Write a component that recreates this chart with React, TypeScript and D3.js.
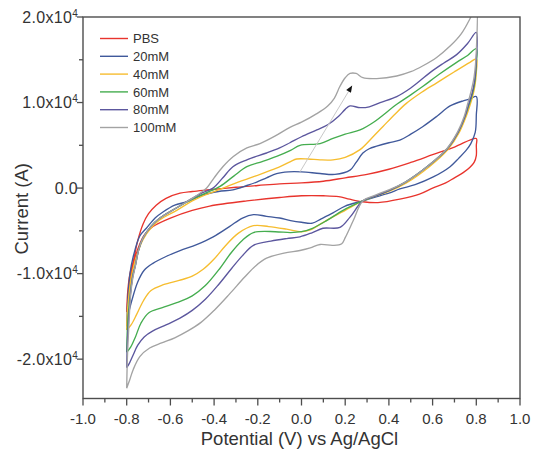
import React from 'react';
import * as d3 from 'd3';

type Pt = [number, number];

// Potential (V) vs Current (units of 10^4 as printed on the axis)
const seriesNames = ['PBS', '20mM', '40mM', '60mM', '80mM', '100mM'];
const seriesColors = ['#e8342d', '#40599b', '#f6bd2f', '#45ad4f', '#5c579e', '#a3a3a3'];

const pbsForward: Pt[] = [[-0.8,-1.45],[-0.795,-1.2],[-0.785,-1.0],[-0.77,-0.86],[-0.75,-0.62],[-0.725,-0.42],[-0.7,-0.3],[-0.665,-0.2],[-0.62,-0.12],[-0.556,-0.06],[-0.5,-0.04],[-0.42,-0.02],[-0.3,0.01],[-0.2,0.03],[-0.1,0.05],[0.0,0.06],[0.1,0.08],[0.2,0.12],[0.3,0.16],[0.4,0.22],[0.5,0.3],[0.6,0.39],[0.7,0.48],[0.8,0.58]];
const pbsReverse: Pt[] = [[0.8,0.5],[0.8,0.38],[0.79,0.3],[0.77,0.24],[0.74,0.18],[0.7,0.12],[0.66,0.06],[0.6,0.0],[0.54,-0.07],[0.45,-0.13],[0.35,-0.17],[0.28,-0.16],[0.22,-0.13],[0.17,-0.1],[0.1,-0.09],[0.0,-0.09],[-0.1,-0.11],[-0.25,-0.15],[-0.42,-0.21],[-0.5,-0.26],[-0.6,-0.35],[-0.68,-0.45],[-0.72,-0.55],[-0.75,-0.72],[-0.775,-0.95],[-0.79,-1.2],[-0.8,-1.45]];

const mM20Forward: Pt[] = [[-0.8,-1.62],[-0.795,-1.3],[-0.785,-1.0],[-0.77,-0.8],[-0.74,-0.56],[-0.71,-0.47],[-0.67,-0.35],[-0.634,-0.28],[-0.58,-0.2],[-0.525,-0.16],[-0.45,-0.08],[-0.38,-0.04],[-0.314,-0.02],[-0.25,0.03],[-0.205,0.07],[-0.16,0.12],[-0.114,0.17],[-0.06,0.19],[0.0,0.19],[0.085,0.17],[0.153,0.16],[0.222,0.21],[0.25,0.3],[0.281,0.41],[0.31,0.46],[0.344,0.49],[0.4,0.53],[0.45,0.56],[0.5,0.63],[0.556,0.72],[0.62,0.84],[0.68,0.96],[0.74,1.02],[0.77,1.04],[0.8,1.07]];
const mM20Reverse: Pt[] = [[0.8,0.85],[0.795,0.65],[0.775,0.52],[0.756,0.45],[0.72,0.35],[0.68,0.25],[0.603,0.13],[0.52,0.04],[0.45,-0.01],[0.4,-0.06],[0.33,-0.11],[0.28,-0.15],[0.2,-0.21],[0.144,-0.29],[0.09,-0.36],[0.05,-0.41],[0.0,-0.4],[-0.05,-0.38],[-0.1,-0.35],[-0.16,-0.33],[-0.22,-0.31],[-0.27,-0.35],[-0.33,-0.45],[-0.404,-0.57],[-0.48,-0.66],[-0.556,-0.73],[-0.62,-0.8],[-0.68,-0.88],[-0.72,-0.96],[-0.75,-1.1],[-0.775,-1.3],[-0.79,-1.45],[-0.8,-1.62]];

const mM40Forward: Pt[] = [[-0.8,-1.66],[-0.797,-1.45],[-0.79,-1.25],[-0.78,-1.05],[-0.765,-0.88],[-0.745,-0.72],[-0.725,-0.6],[-0.69,-0.47],[-0.648,-0.37],[-0.571,-0.26],[-0.5,-0.15],[-0.43,-0.07],[-0.359,0.0],[-0.29,0.07],[-0.222,0.13],[-0.16,0.19],[-0.098,0.25],[-0.05,0.31],[-0.022,0.34],[0.03,0.34],[0.085,0.33],[0.144,0.33],[0.2,0.36],[0.268,0.45],[0.32,0.58],[0.373,0.72],[0.43,0.87],[0.48,0.99],[0.55,1.12],[0.619,1.23],[0.7,1.36],[0.771,1.47],[0.8,1.51]];
const mM40Reverse: Pt[] = [[0.8,1.35],[0.794,1.2],[0.783,1.07],[0.77,0.96],[0.754,0.84],[0.722,0.65],[0.67,0.45],[0.585,0.25],[0.48,0.06],[0.4,-0.04],[0.33,-0.1],[0.28,-0.15],[0.2,-0.26],[0.1,-0.4],[0.04,-0.49],[0.0,-0.51],[-0.068,-0.48],[-0.15,-0.45],[-0.22,-0.44],[-0.29,-0.53],[-0.35,-0.68],[-0.4,-0.83],[-0.45,-0.95],[-0.5,-1.03],[-0.56,-1.08],[-0.632,-1.13],[-0.69,-1.2],[-0.724,-1.32],[-0.755,-1.48],[-0.78,-1.6],[-0.8,-1.66]];

const mM60Forward: Pt[] = [[-0.8,-1.92],[-0.797,-1.65],[-0.79,-1.4],[-0.782,-1.2],[-0.772,-1.02],[-0.76,-0.9],[-0.745,-0.72],[-0.725,-0.58],[-0.69,-0.45],[-0.648,-0.35],[-0.571,-0.23],[-0.5,-0.13],[-0.44,-0.06],[-0.373,0.02],[-0.31,0.14],[-0.25,0.25],[-0.18,0.31],[-0.114,0.37],[-0.05,0.44],[-0.007,0.5],[0.085,0.52],[0.144,0.58],[0.2,0.63],[0.268,0.68],[0.33,0.77],[0.436,0.98],[0.5,1.09],[0.556,1.19],[0.63,1.33],[0.71,1.47],[0.76,1.55],[0.8,1.63]];
const mM60Reverse: Pt[] = [[0.8,1.45],[0.792,1.22],[0.78,1.08],[0.766,0.97],[0.75,0.85],[0.718,0.66],[0.667,0.46],[0.58,0.26],[0.476,0.07],[0.4,-0.03],[0.33,-0.1],[0.28,-0.15],[0.19,-0.26],[0.115,-0.38],[0.05,-0.47],[0.0,-0.51],[-0.05,-0.52],[-0.12,-0.51],[-0.22,-0.52],[-0.27,-0.61],[-0.32,-0.75],[-0.38,-0.96],[-0.44,-1.14],[-0.5,-1.26],[-0.571,-1.34],[-0.64,-1.4],[-0.7,-1.46],[-0.735,-1.58],[-0.76,-1.74],[-0.782,-1.86],[-0.8,-1.92]];

const mM80Forward: Pt[] = [[-0.8,-2.1],[-0.797,-1.8],[-0.79,-1.5],[-0.782,-1.22],[-0.772,-1.03],[-0.76,-0.9],[-0.745,-0.72],[-0.725,-0.58],[-0.69,-0.45],[-0.648,-0.35],[-0.571,-0.23],[-0.5,-0.12],[-0.45,-0.05],[-0.405,0.0],[-0.36,0.12],[-0.314,0.25],[-0.25,0.33],[-0.16,0.41],[-0.1,0.47],[-0.053,0.53],[0.0,0.6],[0.07,0.68],[0.12,0.74],[0.17,0.84],[0.2,0.92],[0.222,0.96],[0.268,0.94],[0.31,0.95],[0.36,1.0],[0.436,1.07],[0.5,1.17],[0.588,1.35],[0.65,1.46],[0.71,1.56],[0.76,1.69],[0.8,1.82]];
const mM80Reverse: Pt[] = [[0.8,1.5],[0.792,1.25],[0.78,1.1],[0.765,0.98],[0.75,0.85],[0.718,0.66],[0.667,0.46],[0.58,0.26],[0.476,0.07],[0.4,-0.03],[0.33,-0.1],[0.28,-0.15],[0.222,-0.34],[0.176,-0.46],[0.098,-0.47],[0.05,-0.52],[-0.007,-0.57],[-0.068,-0.59],[-0.14,-0.62],[-0.22,-0.67],[-0.27,-0.79],[-0.32,-0.94],[-0.38,-1.13],[-0.44,-1.3],[-0.5,-1.43],[-0.556,-1.52],[-0.62,-1.6],[-0.68,-1.67],[-0.72,-1.74],[-0.75,-1.84],[-0.772,-1.96],[-0.788,-2.05],[-0.8,-2.1]];

const mM100Forward: Pt[] = [[-0.8,-2.34],[-0.797,-2.0],[-0.79,-1.6],[-0.782,-1.25],[-0.772,-1.05],[-0.762,-0.93],[-0.745,-0.72],[-0.725,-0.58],[-0.69,-0.45],[-0.648,-0.35],[-0.571,-0.23],[-0.5,-0.12],[-0.465,-0.06],[-0.434,0.0],[-0.4,0.12],[-0.36,0.25],[-0.312,0.37],[-0.25,0.47],[-0.19,0.52],[-0.12,0.61],[-0.053,0.71],[0.0,0.77],[0.07,0.87],[0.12,0.96],[0.15,1.05],[0.176,1.19],[0.2,1.29],[0.222,1.34],[0.25,1.34],[0.281,1.29],[0.344,1.28],[0.436,1.31],[0.5,1.36],[0.556,1.43],[0.62,1.53],[0.68,1.66],[0.73,1.8],[0.771,1.98],[0.8,2.15]];
const mM100Reverse: Pt[] = [[0.8,1.6],[0.79,1.3],[0.775,1.12],[0.76,0.98],[0.745,0.84],[0.715,0.66],[0.665,0.46],[0.58,0.26],[0.475,0.07],[0.4,-0.02],[0.33,-0.09],[0.28,-0.15],[0.237,-0.38],[0.2,-0.58],[0.184,-0.65],[0.144,-0.67],[0.085,-0.66],[0.04,-0.7],[-0.007,-0.73],[-0.08,-0.76],[-0.16,-0.82],[-0.21,-0.91],[-0.26,-1.04],[-0.33,-1.24],[-0.4,-1.43],[-0.46,-1.57],[-0.52,-1.67],[-0.58,-1.75],[-0.64,-1.81],[-0.695,-1.87],[-0.74,-1.97],[-0.77,-2.12],[-0.786,-2.24],[-0.8,-2.34]];

const seriesForward = [pbsForward, mM20Forward, mM40Forward, mM60Forward, mM80Forward, mM100Forward];
const seriesReverse = [pbsReverse, mM20Reverse, mM40Reverse, mM60Reverse, mM80Reverse, mM100Reverse];

const xTickValues = [-1.0, -0.8, -0.6, -0.4, -0.2, 0.0, 0.2, 0.4, 0.6, 0.8, 1.0];
const xTickLabels = ['-1.0', '-0.8', '-0.6', '-0.4', '-0.2', '0.0', '0.2', '0.4', '0.6', '0.8', '1.0'];
const xMinorTicks = [-0.9, -0.7, -0.5, -0.3, -0.1, 0.1, 0.3, 0.5, 0.7, 0.9];
const yTickValues = [2, 1, 0, -1, -2];
const yTickMantissa = ['2.0', '1.0', '0.0', '-1.0', '-2.0'];
const yMinorTicks = [1.5, 0.5, -0.5, -1.5];

const arrowStart: Pt = [-0.007, 0.19];
const arrowEnd: Pt = [0.232, 1.2];

const W = 533;
const H = 449;
const L = 83, R = 520, T = 17, B = 398.5;
const axisColor = '#4d4d4d';
const textColor = '#333333';
const FONT = '"Liberation Sans", Arial, Helvetica, sans-serif';

export default function App() {
  const x = d3.scaleLinear().domain([-1, 1]).range([L, R]);
  const y = d3.scaleLinear().domain([-2.46, 2.0]).range([B, T]);
  const line = d3.line<Pt>().x(d => x(d[0])).y(d => y(d[1])).curve(d3.curveCatmullRom.alpha(0.5));

  const a0: Pt = [x(arrowStart[0]), y(arrowStart[1])];
  const a1: Pt = [x(arrowEnd[0]), y(arrowEnd[1])];
  const ang = Math.atan2(a1[1] - a0[1], a1[0] - a0[0]);
  const hl = 7, hw = 2.8;
  const tip = a1;
  const base: Pt = [tip[0] - hl * Math.cos(ang), tip[1] - hl * Math.sin(ang)];
  const p1: Pt = [base[0] + hw * Math.sin(ang), base[1] - hw * Math.cos(ang)];
  const p2: Pt = [base[0] - hw * Math.sin(ang), base[1] + hw * Math.cos(ang)];

  return (
    <svg width={W} height={H} style={{ position: 'absolute', left: 0, top: 0, background: '#fff' }} fontFamily={FONT}>
      <defs>
        <clipPath id="plotclip">
          <rect x={L} y={T} width={R - L} height={B - T} />
        </clipPath>
      </defs>
      <rect x={0} y={0} width={W} height={H} fill="#fff" />

      <g clipPath="url(#plotclip)">
        {seriesNames.map((n, i) => (
          <path key={n} d={line([...seriesForward[i], ...seriesReverse[i]]) || ''} fill="none"
            stroke={seriesColors[i]} strokeWidth={1.35} strokeLinejoin="round" />
        ))}
        <line x1={a0[0]} y1={a0[1]} x2={base[0]} y2={base[1]} stroke="#c8c8c8" strokeWidth={1} />
        <polygon points={`${tip[0]},${tip[1]} ${p1[0]},${p1[1]} ${p2[0]},${p2[1]}`} fill="#111" />
      </g>

      {/* frame */}
      <rect x={L} y={T} width={R - L} height={B - T} fill="none" stroke={axisColor} strokeWidth={1.4} />

      {/* x ticks */}
      {xTickValues.map((v, i) => (
        <g key={'xt' + i}>
          <line x1={x(v)} x2={x(v)} y1={B} y2={B + 7} stroke={axisColor} strokeWidth={1.3} />
          <text x={x(v)} y={B + 25} textAnchor="middle" fontSize={15} fill={textColor}>{xTickLabels[i]}</text>
        </g>
      ))}
      {xMinorTicks.map((v, i) => (
        <line key={'xm' + i} x1={x(v)} x2={x(v)} y1={B} y2={B + 4} stroke={axisColor} strokeWidth={1.3} />
      ))}

      {/* y ticks */}
      {yTickValues.map((v, i) => (
        <g key={'yt' + i}>
          <line x1={L - 6} x2={L} y1={y(v)} y2={y(v)} stroke={axisColor} strokeWidth={1.3} />
          <text x={L - 5} y={y(v) + 5.5} textAnchor="end" fontSize={16} fill={textColor} letterSpacing={0.3}>
            {v === 0 ? yTickMantissa[i] : (
              <>
                <tspan>{yTickMantissa[i]}x10</tspan>
                <tspan dy={-6} fontSize={10}>4</tspan>
              </>
            )}
          </text>
        </g>
      ))}
      {yMinorTicks.map((v, i) => (
        <line key={'ym' + i} x1={L - 4} x2={L} y1={y(v)} y2={y(v)} stroke={axisColor} strokeWidth={1.3} />
      ))}

      {/* axis titles */}
      <text x={(L + R) / 2 - 2} y={445} textAnchor="middle" fontSize={18.5} fill={textColor}>Potential (V) vs Ag/AgCl</text>
      <text transform={`translate(28, ${(T + B) / 2 + 1}) rotate(-90)`} textAnchor="middle" fontSize={18.5} fill={textColor}>Current (A)</text>

      {/* legend */}
      {seriesNames.map((n, i) => {
        const ly = 38.5 + i * 17.8;
        return (
          <g key={'lg' + n}>
            <line x1={100} x2={128} y1={ly} y2={ly} stroke={seriesColors[i]} strokeWidth={1.4} />
            <text x={133} y={ly + 4.6} fontSize={13} fill={textColor}>{n}</text>
          </g>
        );
      })}
    </svg>
  );
}
